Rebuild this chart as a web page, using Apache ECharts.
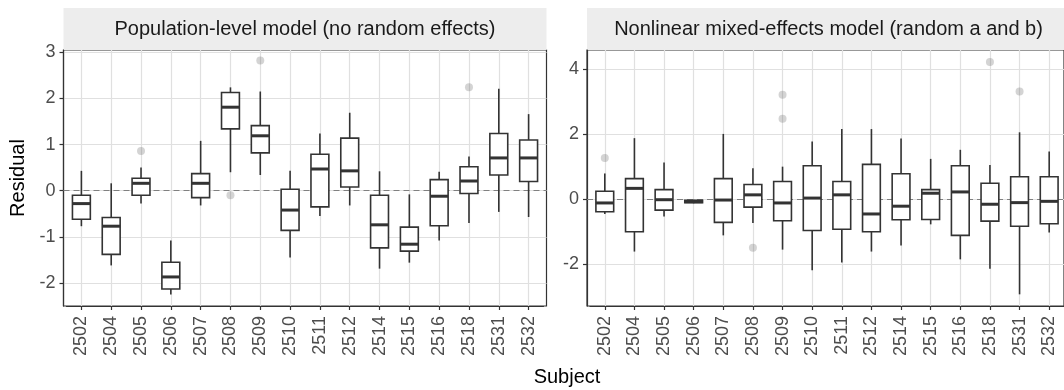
<!DOCTYPE html>
<html>
<head>
<meta charset="utf-8">
<script src="https://cdn.jsdelivr.net/npm/echarts@6/dist/echarts.min.js"></script>
<style>
  html, body { margin: 0; padding: 0; background: #fff; }
  #chart { width: 1064px; height: 390px; }
</style>
</head>
<body>
<div id="chart"></div>
<script>
const subjects = ['2502', '2504', '2505', '2506', '2507', '2508', '2509', '2510',
  '2511', '2512', '2514', '2515', '2516', '2518', '2531', '2532'];

// Population-level model (no random effects)
const popLow = [-0.77, -1.62, -0.28, -2.25, -0.32, 0.40, 0.34, -1.45, -0.55, -0.32, -1.69, -1.56, -1.08, -0.70, -0.46, -0.57];
const popQ1 = [-0.62, -1.38, -0.10, -2.13, -0.15, 1.34, 0.82, -0.86, -0.35, 0.08, -1.24, -1.31, -0.76, -0.06, 0.34, 0.20];
const popMed = [-0.28, -0.77, 0.16, -1.87, 0.16, 1.81, 1.19, -0.42, 0.47, 0.43, -0.74, -1.16, -0.12, 0.21, 0.71, 0.71];
const popQ3 = [-0.10, -0.58, 0.27, -1.55, 0.37, 2.13, 1.41, 0.03, 0.79, 1.14, -0.10, -0.79, 0.24, 0.52, 1.24, 1.10];
const popHigh = [0.43, 0.16, 0.50, -1.08, 1.08, 2.24, 2.15, 0.43, 1.24, 1.69, 0.42, -0.08, 0.41, 0.74, 2.21, 1.66];
const popOutliers = [['2505', 0.86], ['2508', -0.10], ['2509', 2.82], ['2518', 2.24]];

// Nonlinear mixed-effects model (random a and b)
const nlmLow = [-0.46, -1.62, -0.54, -0.13, -1.12, -0.74, -1.56, -2.20, -1.96, -1.62, -1.43, -0.78, -1.86, -2.15, -2.94, -1.03];
const nlmQ1 = [-0.39, -1.01, -0.34, -0.11, -0.72, -0.25, -0.67, -0.97, -0.93, -1.01, -0.64, -0.63, -1.12, -0.68, -0.84, -0.76];
const nlmMed = [-0.12, 0.33, -0.02, -0.08, -0.03, 0.13, -0.12, 0.03, 0.13, -0.46, -0.22, 0.18, 0.22, -0.16, -0.11, -0.07];
const nlmQ3 = [0.24, 0.63, 0.29, -0.04, 0.63, 0.45, 0.54, 1.03, 0.54, 1.07, 0.78, 0.29, 1.03, 0.49, 0.69, 0.69];
const nlmHigh = [0.79, 1.88, 1.13, -0.02, 2.01, 0.95, 1.00, 1.78, 2.16, 2.16, 1.87, 1.24, 1.52, 1.05, 2.06, 1.47];
const nlmOutliers = [['2502', 1.27], ['2508', -1.50], ['2509', 3.22], ['2509', 2.48], ['2518', 4.23], ['2531', 3.32]];

const popTicks = [-2, -1, 0, 1, 2, 3];
const nlmTicks = [-2, 0, 2, 4];
const popRange = [-2.5, 3.05];
const nlmRange = [-3.3, 4.6];

const panelTitles = ['Population-level model (no random effects)', 'Nonlinear mixed-effects model (random a and b)'];

const FONT = '"Liberation Sans", Arial, sans-serif';
const INK = '#333333';

const toBoxRows = (low, q1, med, q3, high) =>
  subjects.map((s, i) => [i, low[i], q1[i], med[i], q3[i], high[i]]);

const renderBox = (params, api) => {
  const x = api.value(0);
  const lo = api.coord([x, api.value(1)]);
  const q1 = api.coord([x, api.value(2)]);
  const md = api.coord([x, api.value(3)]);
  const q3 = api.coord([x, api.value(4)]);
  const hi = api.coord([x, api.value(5)]);
  const w = api.size([1, 0])[0] * 0.6;
  const stroke = { stroke: INK, lineWidth: 1.6 };
  return {
    type: 'group',
    children: [
      { type: 'line', shape: { x1: hi[0], y1: hi[1], x2: q3[0], y2: q3[1] }, style: stroke },
      { type: 'line', shape: { x1: q1[0], y1: q1[1], x2: lo[0], y2: lo[1] }, style: stroke },
      { type: 'rect', shape: { x: q3[0] - w / 2, y: q3[1], width: w, height: q1[1] - q3[1] }, style: { fill: '#ffffff', ...stroke } },
      { type: 'line', shape: { x1: md[0] - w / 2, y1: md[1], x2: md[0] + w / 2, y2: md[1] }, style: { stroke: INK, lineWidth: 3 } },
    ],
  };
};

// frame grids carry border + y gridlines; data grids are inset so categories sit like ggplot's 0.6 expansion
const frames = [
  { left: 63.5, top: 50, width: 483, height: 256 },
  { left: 587, top: 50, width: 483, height: 256 },
];
const inset = 483 / 16.2 * 0.1;

const grids = [];
const xAxes = [];
const yAxes = [];
const series = [];
const graphics = [];

const panels = [
  { range: popRange, ticks: popTicks, rows: toBoxRows(popLow, popQ1, popMed, popQ3, popHigh), outliers: popOutliers },
  { range: nlmRange, ticks: nlmTicks, rows: toBoxRows(nlmLow, nlmQ1, nlmMed, nlmQ3, nlmHigh), outliers: nlmOutliers },
];

panels.forEach((panel, p) => {
  const f = frames[p];
  const frameIdx = grids.length;
  grids.push({ ...f, show: true, backgroundColor: '#ffffff', borderColor: INK, borderWidth: 1.2 });
  const dataIdx = grids.length;
  grids.push({ left: f.left + inset, top: f.top, width: f.width - 2 * inset, height: f.height });

  xAxes.push({ gridIndex: frameIdx, type: 'value', min: 0, max: 1, show: false });
  yAxes.push({
    gridIndex: frameIdx,
    type: 'value',
    min: panel.range[0],
    max: panel.range[1],
    axisLine: { show: true, onZero: false, lineStyle: { color: INK, width: 1.2 } },
    axisTick: { show: true, length: 4, customValues: panel.ticks, lineStyle: { color: INK, width: 1.2 } },
    axisLabel: { customValues: panel.ticks, color: '#4d4d4d', fontSize: 18, fontFamily: FONT, margin: 8 },
    splitLine: { show: true, lineStyle: { color: '#e0e0e0', width: 1.2 } },
  });

  xAxes.push({
    gridIndex: dataIdx,
    type: 'category',
    data: subjects,
    boundaryGap: true,
    axisLine: { show: true, onZero: false, lineStyle: { color: INK, width: 1.2 } },
    axisTick: { show: true, alignWithLabel: true, length: 4, lineStyle: { color: INK, width: 1.2 } },
    axisLabel: { rotate: 90, interval: 0, color: '#4d4d4d', fontSize: 18, fontFamily: FONT, margin: 10 },
    splitLine: { show: false },
  });
  yAxes.push({ gridIndex: dataIdx, type: 'value', min: panel.range[0], max: panel.range[1], show: false });

  const fx = xAxes.length - 2;
  const fy = yAxes.length - 2;
  const dx = xAxes.length - 1;
  const dy = yAxes.length - 1;

  // vertical gridlines at category centres
  series.push({
    type: 'scatter', xAxisIndex: dx, yAxisIndex: dy, data: [], z: 1, silent: true,
    markLine: {
      z: 1, silent: true, symbol: 'none', label: { show: false },
      lineStyle: { color: '#e0e0e0', width: 1.2, type: 'solid' },
      data: subjects.map((s) => ({ xAxis: s })),
    },
  });
  // dashed zero reference
  series.push({
    type: 'scatter', xAxisIndex: fx, yAxisIndex: fy, data: [], z: 2, silent: true,
    markLine: {
      z: 2, silent: true, symbol: 'none', label: { show: false },
      lineStyle: { color: '#808080', width: 1.1, type: [6, 4] },
      data: [{ yAxis: 0 }],
    },
  });
  series.push({
    type: 'custom', xAxisIndex: dx, yAxisIndex: dy, z: 3,
    encode: { x: 0, y: [1, 2, 3, 4, 5] },
    renderItem: renderBox,
    data: panel.rows,
  });
  series.push({
    type: 'scatter', xAxisIndex: dx, yAxisIndex: dy, z: 4,
    symbolSize: 8,
    itemStyle: { color: 'rgba(90, 90, 90, 0.32)' },
    data: panel.outliers,
  });

  graphics.push({
    type: 'rect', left: f.left, top: 8,
    shape: { width: f.width, height: 42 },
    style: { fill: '#ededed' }, silent: true,
  });
  graphics.push({
    type: 'text', x: f.left + f.width / 2, y: 29,
    style: { text: panelTitles[p], fill: '#1a1a1a', font: `20px ${FONT}`, textAlign: 'center', textVerticalAlign: 'middle' },
  });
});

graphics.push({
  type: 'text', x: 18, y: 178, rotation: Math.PI / 2,
  style: { text: 'Residual', fill: '#000000', font: `20px ${FONT}`, textAlign: 'center', textVerticalAlign: 'middle' },
});
graphics.push({
  type: 'text', x: 567, y: 377,
  style: { text: 'Subject', fill: '#000000', font: `20px ${FONT}`, textAlign: 'center', textVerticalAlign: 'middle' },
});

const chart = echarts.init(document.getElementById('chart'));
chart.setOption({
  animation: false,
  backgroundColor: '#ffffff',
  textStyle: { fontFamily: FONT },
  grid: grids,
  xAxis: xAxes,
  yAxis: yAxes,
  series,
  graphic: graphics,
});
</script>
</body>
</html>
